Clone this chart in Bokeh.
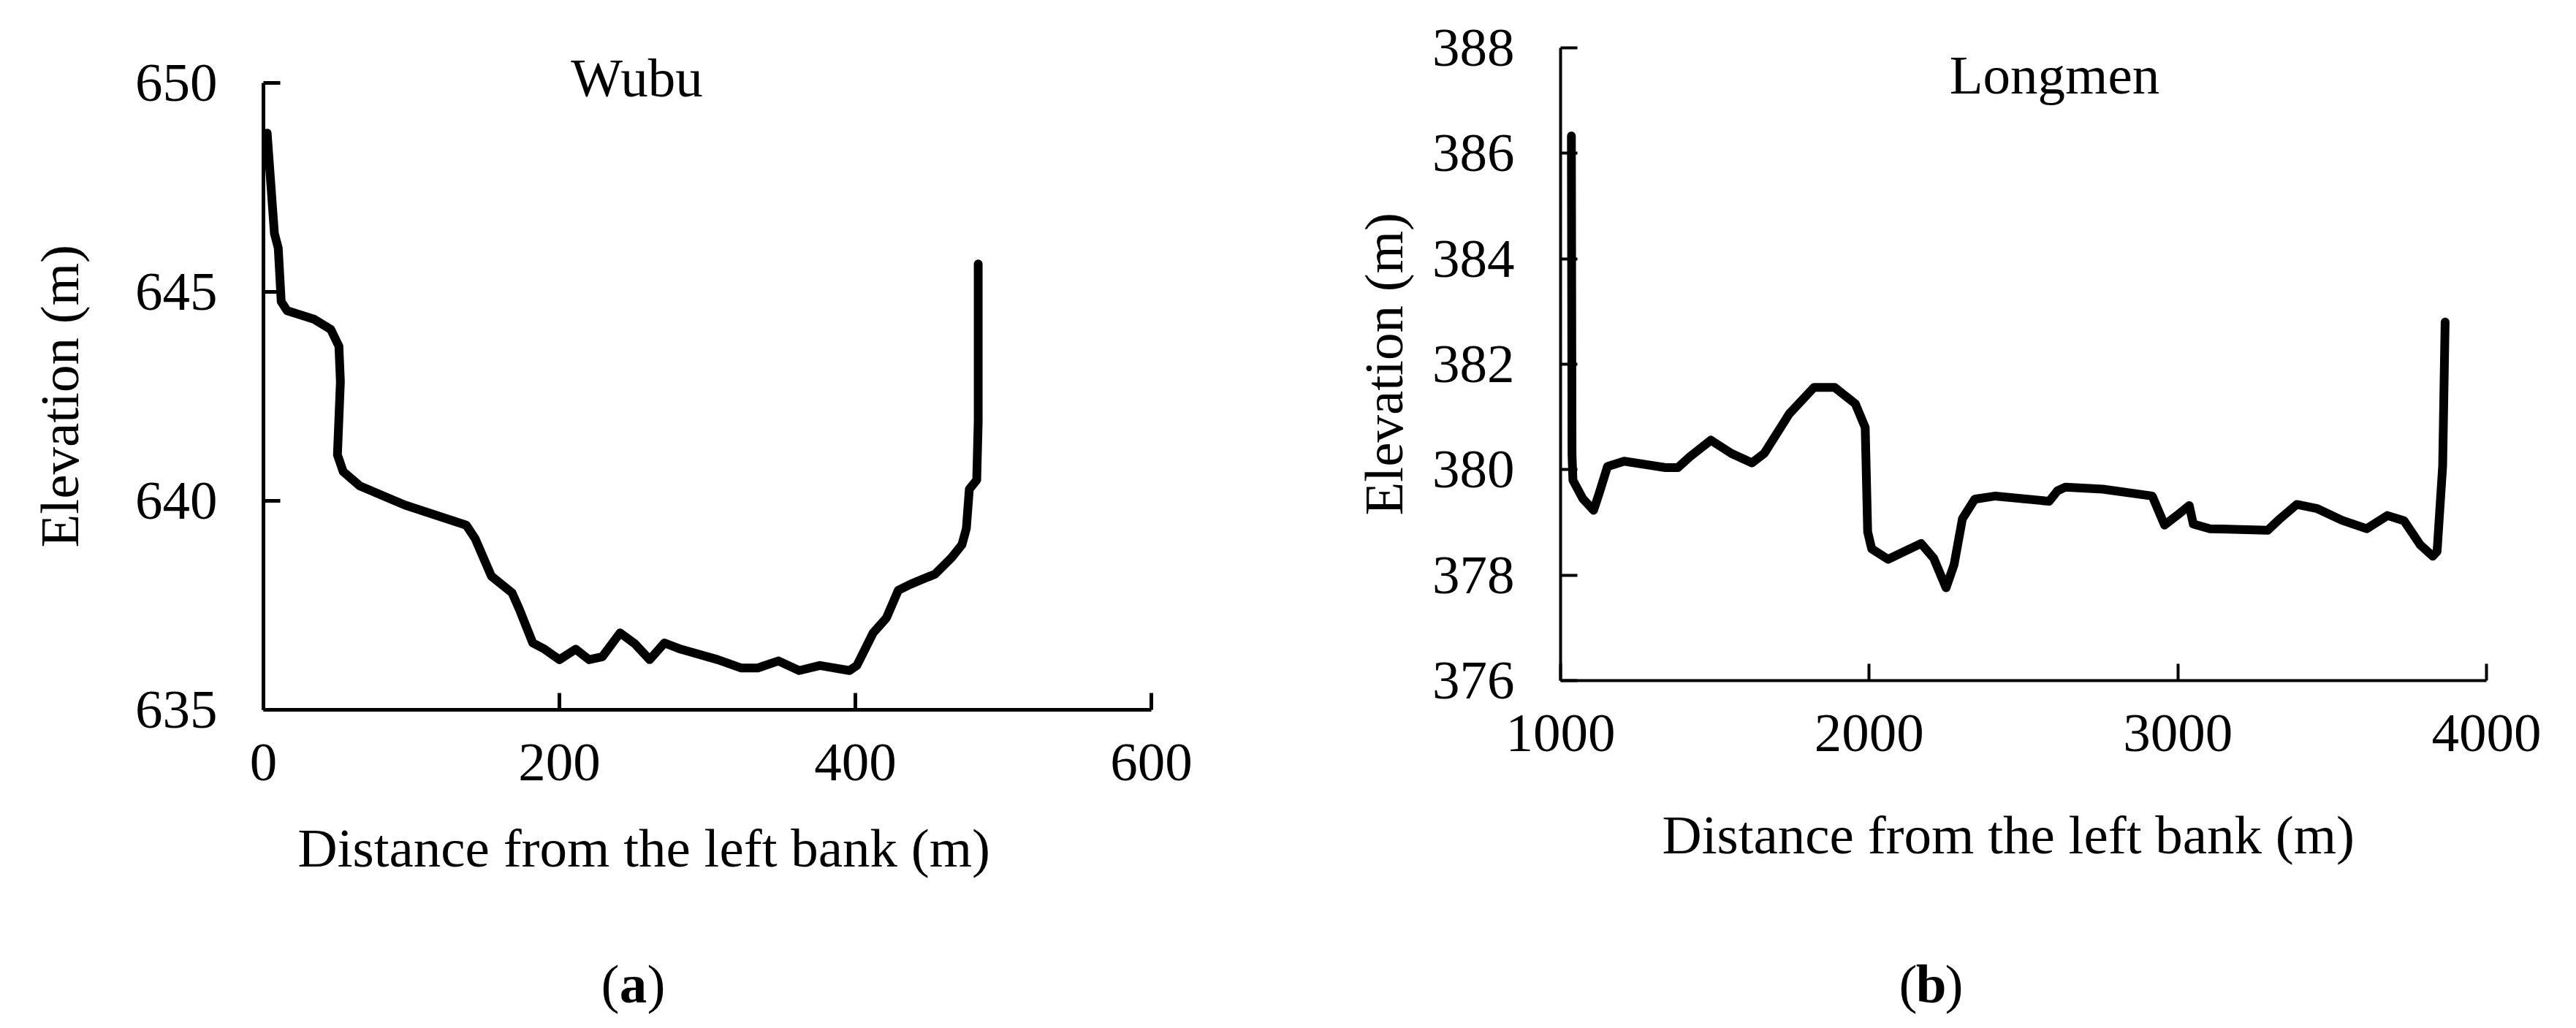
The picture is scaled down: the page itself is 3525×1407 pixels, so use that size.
from bokeh.plotting import figure
from bokeh.layouts import row, column
from bokeh.models import FixedTicker, Label, Range1d, Title
from bokeh.core.properties import value
from bokeh.embed import file_html
from bokeh.resources import INLINE

# ---------------- data ----------------
wubu_x = [2.5, 7.4, 10, 12, 16, 34, 45.5, 51, 52, 50, 53.9, 65, 95.6, 137, 143, 154, 168, 173,
          182, 190, 200, 211, 220, 229, 241, 251, 261, 271, 282, 307, 323, 334, 348, 362, 376,
          396, 401, 412, 421, 429, 437, 454, 465, 472, 475, 477, 482, 483, 483]
wubu_y = [648.8, 646.4, 646.05, 644.77, 644.55, 644.35, 644.1, 643.7, 642.85, 641.1, 640.7,
          640.36, 639.9, 639.42, 639.1, 638.2, 637.8, 637.4, 636.6, 636.45, 636.2, 636.45,
          636.2, 636.27, 636.84, 636.58, 636.2, 636.6, 636.45, 636.2, 636.0, 636.0, 636.17,
          635.94, 636.06, 635.94, 636.06, 636.84, 637.2, 637.86, 638.0, 638.25, 638.64,
          638.95, 639.34, 640.28, 640.5, 641.9, 645.67]

longmen_x = [1035, 1037, 1040, 1072, 1107, 1126, 1152, 1206, 1340, 1380, 1420, 1487, 1553,
             1620, 1660, 1741, 1821, 1888, 1955, 1987, 1995, 2008, 2061, 2168, 2209, 2249,
             2275, 2302, 2342, 2409, 2583, 2610, 2636, 2757, 2917, 2957, 2997, 3037, 3050,
             3104, 3291, 3331, 3385, 3452, 3532, 3612, 3679, 3733, 3786, 3826, 3840, 3858,
             3866]
longmen_y = [386.33, 380.3, 379.8, 379.45, 379.23, 379.57, 380.06, 380.16, 380.04, 380.04,
             380.25, 380.56, 380.31, 380.13, 380.31, 381.06, 381.56, 381.56, 381.25, 380.8,
             378.82, 378.5, 378.3, 378.6, 378.32, 377.76, 378.2, 379.07, 379.44, 379.5,
             379.4, 379.6, 379.67, 379.63, 379.5, 378.95, 379.13, 379.32, 378.97, 378.88,
             378.85, 379.07, 379.34, 379.26, 379.04, 378.88, 379.13, 379.03, 378.57, 378.36,
             378.45, 380.07, 382.8]

a_xticks = [0, 200, 400, 600]
a_yticks = [635, 640, 645, 650]
b_xticks = [1000, 2000, 3000, 4000]
b_yticks = [376, 378, 380, 382, 384, 386, 388]

a_title = "Wubu"
b_title = "Longmen"
x_label = "Distance from the left bank (m)"
y_label = "Elevation (m)"
sub_letters = ["a", "b"]

FONT = "Liberation Serif"
FS = "75px"

# ---------------- layout constants (page pixels) ----------------
BT = 10                  # frame tops at page y = 18
BB = 290                 # bottom border (same for both, the row aligns them)
FRAME_TOP = 8 + BT
A_BOTTOM = 979           # page y of panel a x-axis
B_BOTTOM = 939           # page y of panel b x-axis


def make(xr, yr, xt, yt, ybounds, width, height, bl, br, axis_w,
         xl_off, xl_gap, yl_off, yl_gap):
    p = figure(width=width, height=height, x_range=Range1d(*xr), y_range=Range1d(*yr),
               output_backend="svg", toolbar_location=None,
               min_border_left=bl, min_border_right=br, min_border_top=BT, min_border_bottom=BB)
    p.outline_line_color = None
    p.grid.visible = False
    p.background_fill_color = "white"
    p.border_fill_color = "white"
    for ax, ticks, gap in ((p.xaxis[0], xt, xl_gap), (p.yaxis[0], yt, yl_gap)):
        ax.ticker = FixedTicker(ticks=ticks)
        ax.minor_tick_line_color = None
        ax.major_tick_in = 23
        ax.major_tick_out = 0
        ax.axis_line_width = axis_w
        ax.major_tick_line_width = axis_w
        ax.axis_line_color = "black"
        ax.major_tick_line_color = "black"
        ax.major_label_text_font = FONT
        ax.major_label_text_font_size = FS
        ax.major_label_text_color = "black"
        # blank axis label only reserves the gap before the axis title below
        ax.axis_label = " "
        ax.axis_label_text_font_size = "1px"
        ax.axis_label_standoff = gap
    p.yaxis.bounds = ybounds
    p.xaxis.major_label_standoff = 47
    p.yaxis.major_label_standoff = 63
    # axis titles as side-panel titles, so they can be offset along the axis
    p.add_layout(Title(text=x_label, align="left", offset=xl_off, standoff=0,
                       vertical_align="top", text_font=FONT, text_font_size=FS,
                       text_font_style="normal", text_color="black"), "below")
    p.add_layout(Title(text=y_label, align="left", offset=yl_off, standoff=0,
                       vertical_align="bottom", text_font=FONT, text_font_size=FS,
                       text_font_style="normal", text_color="black"), "left")
    return p


def title_label(p, text, sx, sy):
    p.add_layout(Label(x=sx, y=sy, x_units="screen", y_units="screen", text=text,
                       text_font=FONT, text_font_size=FS, text_align="center",
                       text_baseline="alphabetic", text_color="black"))


# panel a: axis corner at (368, 979); 650 at y=121; 600 at x=1583
a_ppu = (A_BOTTOM - 121) / (a_yticks[-1] - a_yticks[0])
a_yr = (a_yticks[0], a_yticks[0] + (A_BOTTOM - FRAME_TOP) / a_ppu)
ha = A_BOTTOM - 8 + BB
pa = make((a_xticks[0], a_xticks[-1]), a_yr, a_xticks, a_yticks, (a_yticks[0], a_yticks[-1]),
          1754, ha, 360, 179, 5, 47, 44, 222, 55)
pa.line(wubu_x, wubu_y, line_width=12, line_color="black", line_join="round", line_cap="round")
title_label(pa, a_title, 879 - 368, A_BOTTOM - 114)

# panel b: axis corner at (2143, 939); 388 at y=73; 4000 at x=3410
b_ppu = (B_BOTTOM - 73) / (b_yticks[-1] - b_yticks[0])
b_yr = (b_yticks[0], b_yticks[0] + (B_BOTTOM - FRAME_TOP) / b_ppu)
hb = B_BOTTOM - 8 + BB
pb = make((b_xticks[0], b_xticks[-1]), b_yr, b_xticks, b_yticks, (b_yticks[0], b_yticks[-1]),
          1755, hb, 381, 107, 4, 139, 66, 226, 18)
pb.line(longmen_x, longmen_y, line_width=12, line_color="black", line_join="round", line_cap="round")
title_label(pb, b_title, 2819 - 2143, B_BOTTOM - 110)

# sub-figure labels "(a)" and "(b)" in a strip below, page-pixel coordinates
strip_top = 8 + max(ha, hb)
strip = figure(width=3509, height=1399 - strip_top, x_range=Range1d(8, 3517),
               y_range=Range1d(1399, strip_top), output_backend="svg", toolbar_location=None,
               x_axis_location=None, y_axis_location=None,
               min_border_left=0, min_border_right=0, min_border_top=0, min_border_bottom=0)
strip.outline_line_color = None
strip.grid.visible = False
strip.background_fill_color = "white"
strip.border_fill_color = "white"
centers = [874, 2650]
base = [1354, 1354]
strip.text(x=[c - 19 for c in centers], y=base, text=["(", "("], text_font=value(FONT),
           text_font_size=value(FS), text_align="right", text_baseline="alphabetic",
           text_color="black")
strip.text(x=centers, y=base, text=sub_letters, text_font=value(FONT), text_font_size=value(FS),
           text_font_style="bold", text_align="center", text_baseline="alphabetic",
           text_color="black")
strip.text(x=[c + 19 for c in centers], y=base, text=[")", ")"], text_font=value(FONT),
           text_font_size=value(FS), text_align="left", text_baseline="alphabetic",
           text_color="black")

layout = column(row(pa, pb), strip)
open("out.html", "w").write(file_html(layout, INLINE))
